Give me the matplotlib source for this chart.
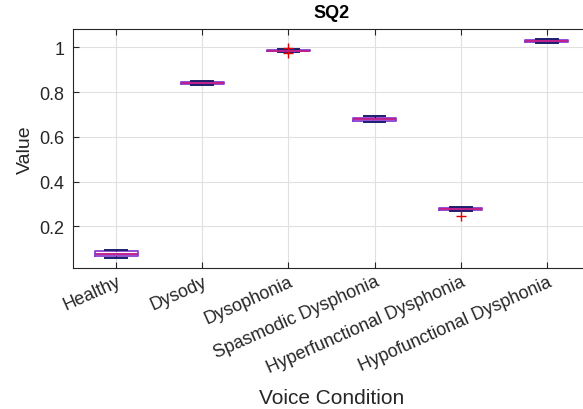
import matplotlib.pyplot as plt
import matplotlib.transforms as mtransforms
from matplotlib.ticker import FuncFormatter

plt.rcParams['font.family'] = ['Liberation Sans', 'DejaVu Sans']

conditions = ['Healthy', 'Dysody', 'Dysophonia', 'Spasmodic Dysphonia',
              'Hyperfunctional Dysphonia', 'Hypofunctional Dysphonia']
q1 = [0.066, 0.835, 0.982, 0.672, 0.274, 1.022]
med = [0.075, 0.840, 0.985, 0.679, 0.278, 1.028]
q3 = [0.088, 0.845, 0.988, 0.686, 0.282, 1.034]
whislo = [0.060, 0.831, 0.980, 0.665, 0.270, 1.018]
whishi = [0.094, 0.849, 0.991, 0.694, 0.286, 1.038]
outliers = [[], [], [0.974, 0.995], [], [0.248], []]

stats = []
for i, name in enumerate(conditions):
    stats.append(dict(label=name, q1=q1[i], med=med[i], q3=q3[i],
                      whislo=whislo[i], whishi=whishi[i], fliers=outliers[i]))

fig = plt.figure(figsize=(5.83, 4.10), dpi=100)
# axes runs a little past the right edge of the figure
ax = fig.add_axes([73 / 583, 1 - 269 / 410, 517 / 583, 239 / 410])

ax.bxp(stats, positions=range(1, 7), widths=0.5,
       boxprops=dict(color='#8a3fd0', linewidth=1.3),
       medianprops=dict(color='#c0208a', linewidth=1.4),
       whiskerprops=dict(color='black', linestyle='--', linewidth=0.8),
       capprops=dict(color='#1e1e6e', linewidth=1.4),
       capwidths=0.25,
       flierprops=dict(marker='+', markeredgecolor='#e00000', markersize=7,
                       linestyle='none'))

ax.set_xlim(0.5, 6.5)
ax.set_ylim(0.014, 1.082)
ax.set_yticks([0.2, 0.4, 0.6, 0.8, 1.0])
ax.yaxis.set_major_formatter(FuncFormatter(lambda v, p: f'{v:g}'))
ax.set_xticks(range(1, 7))
ax.set_xticklabels(conditions, rotation=24, ha='right', va='top',
                   rotation_mode='anchor')
shift = mtransforms.ScaledTranslation(8 / 100, -4 / 100, fig.dpi_scale_trans)
for lbl in ax.get_xticklabels():
    lbl.set_transform(lbl.get_transform() + shift)
ax.grid(True, color='#e0e0e0', linewidth=0.8)
ax.set_axisbelow(True)
ax.tick_params(direction='in', length=4, labelsize=13, colors='#262626',
               top=True, right=True)
ax.tick_params(axis='y', pad=6)
for s in ax.spines.values():
    s.set_color('#262626')
    s.set_linewidth(0.8)

ax.set_title('SQ2', fontsize=13, fontweight='bold', pad=9)
ax.set_ylabel('Value', fontsize=14, color='#262626', labelpad=4)
ax.set_xlabel('Voice Condition', fontsize=15, color='#262626', labelpad=9)

fig.savefig('out.png', dpi=100)
